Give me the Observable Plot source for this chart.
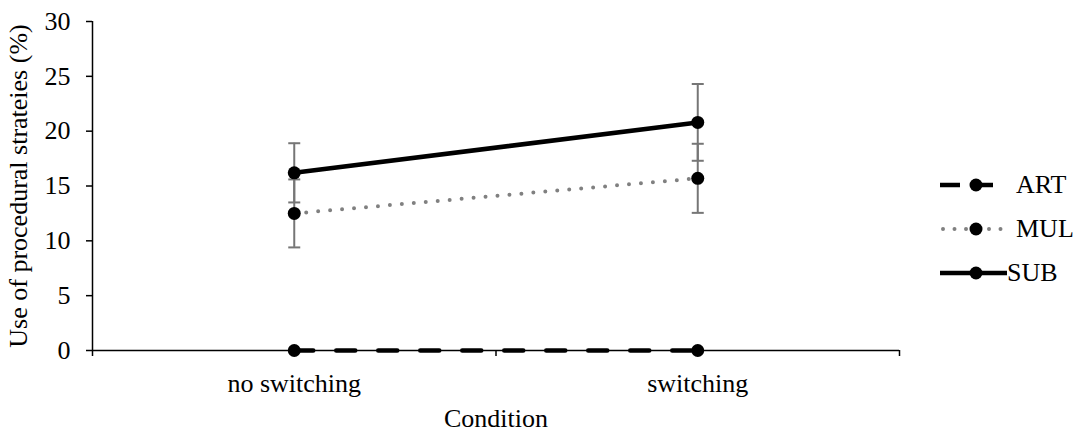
<!DOCTYPE html>
<html>
<head>
<meta charset="utf-8">
<script src="https://cdn.jsdelivr.net/npm/d3@7"></script>
<script src="https://cdn.jsdelivr.net/npm/@observablehq/plot@0.6"></script>
</head>
<body style="margin:0;padding:0;background:#fff">
<div id="wrap" style="position:relative;width:1078px;height:432px;font-family:'Liberation Serif';"></div>
<script>
// ---- data ----
const conditions = ["no switching", "switching"];
const seriesNames = ["ART", "MUL", "SUB"];
const artValues = [0, 0];
const mulValues = [12.5, 15.7];
const subValues = [16.2, 20.8];
const artErrors = [0, 0];
const mulErrors = [3.1, 3.15];
const subErrors = [2.7, 3.5];
const yTicks = [0, 5, 10, 15, 20, 25, 30];
const yTitle = "Use of procedural strateies (%)";
const xTitle = "Condition";

const valuesBy = {ART: artValues, MUL: mulValues, SUB: subValues};
const errorsBy = {ART: artErrors, MUL: mulErrors, SUB: subErrors};
const rows = [];
for (const s of seriesNames) {
  conditions.forEach((c, i) => {
    rows.push({series: s, condition: c, x: i + 0.5, y: valuesBy[s][i], err: errorsBy[s][i]});
  });
}
const errRows = rows.filter(d => d.err > 0);

const capSymbol = { draw(context) { context.moveTo(-6, 0); context.lineTo(6, 0); } };
const errColor = "#767676";
const serif = "Liberation Serif";

const chart = Plot.plot({
  width: 940,
  height: 432,
  marginLeft: 92,
  marginRight: 41,
  marginTop: 21,
  marginBottom: 82,
  style: "font-family: 'Liberation Serif'; font-size: 26px; color: #000; background: #fff;",
  x: {domain: [0, conditions.length]},
  y: {domain: [0, 30]},
  marks: [
    Plot.axisY({ticks: yTicks, tickSize: 6, tickPadding: 16, strokeWidth: 1.5, fontSize: 26, fontFamily: serif,
      label: yTitle, labelAnchor: "center", labelArrow: "none", labelOffset: 84}),
    Plot.axisX({ticks: d3.range(0, conditions.length + 1), tickSize: 6, strokeWidth: 1.5, tickFormat: () => "", label: null}),
    Plot.axisX({ticks: conditions.map((c, i) => i + 0.5), tickSize: 0, tickPadding: 23, fontSize: 26, fontFamily: serif,
      tickFormat: v => conditions[Math.round(v - 0.5)],
      label: xTitle, labelAnchor: "center", labelArrow: "none", labelOffset: 76}),
    Plot.ruleX([0], {y1: 0, y2: 30, stroke: "#000", strokeWidth: 1.5}),
    Plot.ruleY([0], {x1: 0, x2: conditions.length, stroke: "#000", strokeWidth: 1.5}),
    // error bars
    Plot.ruleX(errRows, {x: "x", y1: d => d.y - d.err, y2: d => d.y + d.err, stroke: errColor, strokeWidth: 2}),
    Plot.dot(errRows, {x: "x", y: d => d.y + d.err, symbol: capSymbol, stroke: errColor, strokeWidth: 2, fill: "none"}),
    Plot.dot(errRows, {x: "x", y: d => d.y - d.err, symbol: capSymbol, stroke: errColor, strokeWidth: 2, fill: "none"}),
    // lines
    Plot.line(rows.filter(d => d.series === "ART"), {x: "x", y: "y", stroke: "#000", strokeWidth: 4.5, strokeDasharray: "19 23"}),
    Plot.line(rows.filter(d => d.series === "MUL"), {x: "x", y: "y", stroke: "#808080", strokeWidth: 4, strokeDasharray: "0 12", strokeLinecap: "round"}),
    Plot.line(rows.filter(d => d.series === "SUB"), {x: "x", y: "y", stroke: "#000", strokeWidth: 4.5}),
    // markers
    Plot.dot(rows, {x: "x", y: "y", r: 6.5, fill: "#000", stroke: "none"})
  ]
});

const wrap = document.getElementById("wrap");
wrap.appendChild(chart);
chart.querySelectorAll("text").forEach(t => t.style.fontFamily = "'Liberation Serif'");

// ---- legend ----
const legendStyles = {
  ART: {stroke: "#000", width: 4.5, dash: "20 13", cap: "butt", x1: 4, x2: 66},
  MUL: {stroke: "#808080", width: 4, dash: "0 11.5", cap: "round", x1: 7, x2: 67},
  SUB: {stroke: "#000", width: 4.5, dash: null, cap: "butt", x1: 4, x2: 71}
};
const legendTops = {ART: 173, MUL: 217, SUB: 261};
for (const s of seriesNames) {
  const st = legendStyles[s];
  const item = document.createElement("div");
  item.setAttribute("style", `position:absolute;left:936px;top:${legendTops[s]}px;height:24px;display:flex;align-items:center;font-size:26px;color:#000;font-family:'Liberation Serif';`);
  item.innerHTML =
    `<svg width="${s === "SUB" ? 71 : 80}" height="24" style="display:block">` +
    `<line x1="${st.x1}" x2="${st.x2}" y1="12" y2="12" stroke="${st.stroke}" stroke-width="${st.width}"` +
    (st.dash ? ` stroke-dasharray="${st.dash}"` : "") + ` stroke-linecap="${st.cap}"/>` +
    `<circle cx="40" cy="12" r="6.5" fill="#000"/></svg><span style="font-family:'Liberation Serif'">${s}</span>`;
  wrap.appendChild(item);
}
</script>
</body>
</html>
